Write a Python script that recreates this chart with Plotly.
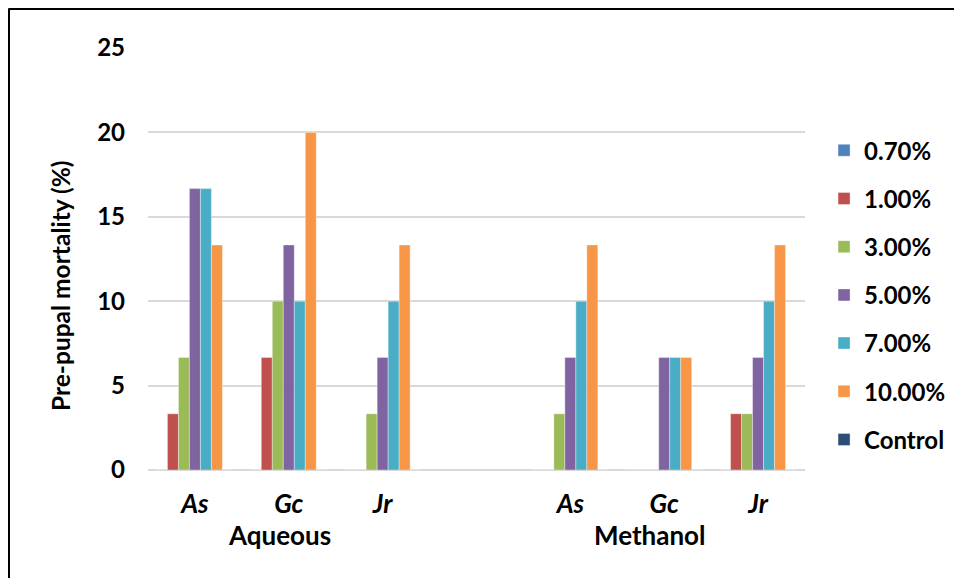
import plotly.graph_objects as go

groups = ["Aqueous", "Aqueous", "Aqueous", "", "Methanol", "Methanol", "Methanol"]
plants = ["As", "Gc", "Jr", "", "As", "Gc", "Jr"]
categories = [(g + " " + p).strip() or " " for g, p in zip(groups, plants)]
group_labels = ["Aqueous", "Methanol"]
group_centers = ["Aqueous Gc", "Methanol Gc"]
group_shift = [-9, -14]

series_names = ["0.70%", "1.00%", "3.00%", "5.00%", "7.00%", "10.00%", "Control"]
v_070 = [0, 0, 0, None, 0, 0, 0]
v_100 = [3.33, 6.67, 0, None, 0, 0, 3.33]
v_300 = [6.67, 10, 3.33, None, 3.33, 0, 3.33]
v_500 = [16.67, 13.33, 6.67, None, 6.67, 6.67, 6.67]
v_700 = [16.67, 10, 10, None, 10, 6.67, 10]
v_1000 = [13.33, 20, 13.33, None, 13.33, 6.67, 13.33]
v_ctrl = [0, 0, 0, None, 0, 0, 0]
series_values = [v_070, v_100, v_300, v_500, v_700, v_1000, v_ctrl]
colors = ["#4F81BD", "#C0504D", "#9BBB59", "#8064A2", "#4BACC6", "#F79646", "#2C4D75"]

FONT = "Lato"

fig = go.Figure()
for i, (name, vals, col) in enumerate(zip(series_names, series_values, colors)):
    fig.add_trace(go.Bar(
        x=categories, y=vals, name="<b>%s</b>" % name,
        marker=dict(color=col, line=dict(color="rgba(255,255,255,0.6)", width=0.6)),
        legendgroup="g%d" % i,
    ))

# page body adds an 8px offset
L, R, T, B = 140, 165, 40, 116
W, H = 962, 578
pw, ph = W - L - R, H - T - B
bx = (0.5 - L) / pw
ty = (ph + T - 0.5) / ph

annotations = [dict(text="<b>Pre-pupal mortality (%)</b>", textangle=-90,
                    xref="paper", yref="paper", x=(52 - L) / pw, y=1 - (278 - T) / ph,
                    xanchor="center", yanchor="middle", showarrow=False,
                    font=dict(size=24.5, family=FONT, color="black"))]
for lab, cen, sh in zip(group_labels, group_centers, group_shift):
    annotations.append(dict(text="<b>%s</b>" % lab, xref="x", yref="paper",
                            x=cen, y=1 - (527 - T) / ph, xanchor="center", yanchor="middle",
                            xshift=sh, showarrow=False,
                            font=dict(size=26, family=FONT, color="black")))

fig.update_layout(
    width=W, height=H,
    margin=dict(l=L, r=R, t=T, b=B),
    paper_bgcolor="white", plot_bgcolor="white",
    barmode="group", bargap=0.18, bargroupgap=0,
    font=dict(family=FONT, color="black", size=22),
    legend=dict(x=1.029, y=0.81, xanchor="left", yanchor="top",
                font=dict(size=24, family=FONT, color="black", weight="bold"),
                tracegroupgap=14, itemwidth=30, traceorder="grouped"),
    xaxis=dict(type="category", categoryorder="array", categoryarray=categories,
               tickmode="array", tickvals=categories,
               ticktext=["<b><i>%s</i></b>" % p if p else "" for p in plants],
               showgrid=False, tickfont=dict(size=26, family=FONT, color="black"),
               ticklabelstandoff=16, showline=False, ticks=""),
    yaxis=dict(range=[0, 25], tickvals=[0, 5, 10, 15, 20, 25],
               showgrid=True, gridcolor="#D9D9D9", gridwidth=1.5,
               zeroline=True, zerolinecolor="#D9D9D9", zerolinewidth=1.5,
               tickfont=dict(size=24, family=FONT, color="black", weight="bold"),
               ticklabelstandoff=22),
    annotations=annotations,
    shapes=[
        dict(type="line", xref="paper", yref="paper", x0=bx, x1=bx, y0=ty, y1=-0.4,
             line=dict(color="black", width=3)),
        dict(type="line", xref="paper", yref="paper", x0=bx, x1=1.4, y0=ty, y1=ty,
             line=dict(color="black", width=3)),
    ],
)

fig.write_html("out.html")
